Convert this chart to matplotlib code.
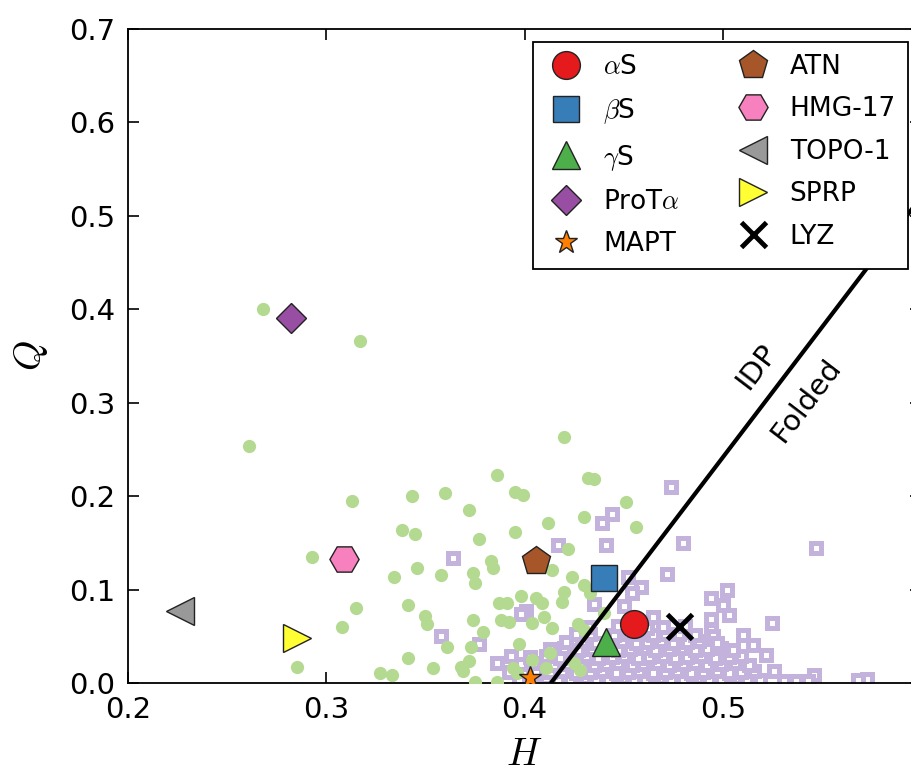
import matplotlib
matplotlib.use('Agg')
import matplotlib.pyplot as plt

plt.rcParams['font.family'] = ['DejaVu Sans']
plt.rcParams['mathtext.fontset'] = 'cm'

# IDP database (green dots), (H, Q)
idp_pts = [
    (0.268, 0.400), (0.317, 0.366), (0.261, 0.254), (0.420, 0.263), (0.386, 0.223),
    (0.313, 0.195), (0.343, 0.200), (0.360, 0.203), (0.395, 0.204), (0.399, 0.201),
    (0.432, 0.219), (0.435, 0.218), (0.451, 0.194), (0.372, 0.185), (0.430, 0.178),
    (0.456, 0.167), (0.412, 0.171), (0.338, 0.164), (0.345, 0.160), (0.377, 0.154),
    (0.395, 0.162), (0.293, 0.135), (0.422, 0.143), (0.383, 0.131), (0.384, 0.123),
    (0.346, 0.123), (0.334, 0.113), (0.358, 0.116), (0.374, 0.118), (0.375, 0.107),
    (0.414, 0.121), (0.424, 0.113), (0.430, 0.105), (0.398, 0.093), (0.387, 0.086),
    (0.391, 0.086), (0.406, 0.091), (0.409, 0.086), (0.419, 0.087), (0.420, 0.097),
    (0.433, 0.096), (0.315, 0.080), (0.308, 0.060), (0.341, 0.083), (0.350, 0.072),
    (0.351, 0.063), (0.374, 0.067), (0.388, 0.067), (0.392, 0.065), (0.404, 0.064),
    (0.410, 0.071), (0.414, 0.059), (0.440, 0.075), (0.379, 0.055), (0.430, 0.057),
    (0.361, 0.039), (0.373, 0.039), (0.397, 0.042), (0.341, 0.027), (0.354, 0.016),
    (0.368, 0.017), (0.369, 0.013), (0.327, 0.011), (0.333, 0.009), (0.285, 0.017),
    (0.375, 0.001), (0.386, 0.001), (0.396, 0.011), (0.413, 0.032), (0.404, 0.025),
    (0.411, 0.016), (0.425, 0.021), (0.428, 0.014), (0.394, 0.016), (0.372, 0.024),
    (0.427, 0.063),
]

# folded proteins (lavender squares), sparse ones
folded_sparse = [
    (0.474, 0.210), (0.444, 0.181), (0.439, 0.171), (0.441, 0.148), (0.417, 0.148),
    (0.364, 0.134), (0.480, 0.150), (0.547, 0.145), (0.472, 0.117), (0.452, 0.114),
    (0.459, 0.103), (0.454, 0.096), (0.502, 0.100), (0.494, 0.091), (0.500, 0.084),
    (0.503, 0.073), (0.525, 0.064), (0.435, 0.085), (0.450, 0.082), (0.465, 0.071),
    (0.494, 0.068), (0.494, 0.057), (0.495, 0.050), (0.510, 0.051), (0.515, 0.041),
    (0.522, 0.030), (0.526, 0.013), (0.546, 0.009), (0.573, 0.004), (0.358, 0.050),
    (0.377, 0.042), (0.386, 0.021), (0.393, 0.029), (0.401, 0.077), (0.398, 0.074),
    (0.531, 0.002), (0.537, 0.002), (0.543, 0.002), (0.568, 0.003),
]

# folded proteins, dense cluster near the bottom
folded_dense = [
    (0.397, 0.004), (0.404, 0.003), (0.411, 0.005), (0.417, 0.004), (0.423, 0.003),
    (0.430, 0.005), (0.436, 0.004), (0.442, 0.003), (0.449, 0.005), (0.455, 0.004),
    (0.461, 0.003), (0.468, 0.005), (0.474, 0.004), (0.480, 0.003), (0.487, 0.005),
    (0.493, 0.004), (0.499, 0.003), (0.506, 0.005), (0.512, 0.004), (0.519, 0.003),
    (0.392, 0.012), (0.399, 0.013), (0.406, 0.011), (0.413, 0.012), (0.419, 0.013),
    (0.426, 0.011), (0.433, 0.012), (0.439, 0.013), (0.446, 0.011), (0.452, 0.012),
    (0.458, 0.013), (0.465, 0.011), (0.471, 0.012), (0.477, 0.013), (0.484, 0.011),
    (0.490, 0.012), (0.497, 0.013), (0.503, 0.011), (0.509, 0.012), (0.516, 0.013),
    (0.398, 0.020), (0.405, 0.021), (0.415, 0.019), (0.421, 0.020), (0.428, 0.021),
    (0.435, 0.019), (0.441, 0.020), (0.447, 0.021), (0.454, 0.019), (0.460, 0.020),
    (0.467, 0.021), (0.473, 0.019), (0.480, 0.020), (0.486, 0.021), (0.492, 0.019),
    (0.499, 0.020), (0.506, 0.021), (0.513, 0.019),
    (0.403, 0.028), (0.411, 0.029), (0.418, 0.027), (0.424, 0.028), (0.431, 0.029),
    (0.437, 0.027), (0.444, 0.028), (0.450, 0.029), (0.457, 0.027), (0.463, 0.028),
    (0.470, 0.029), (0.476, 0.027), (0.482, 0.028), (0.489, 0.029), (0.496, 0.027),
    (0.503, 0.028), (0.509, 0.029),
    (0.413, 0.036), (0.420, 0.037), (0.427, 0.035), (0.434, 0.036), (0.440, 0.037),
    (0.447, 0.035), (0.453, 0.036), (0.460, 0.037), (0.466, 0.035), (0.473, 0.036),
    (0.479, 0.037), (0.486, 0.035), (0.492, 0.036), (0.499, 0.037), (0.505, 0.035),
    (0.421, 0.044), (0.429, 0.045), (0.436, 0.043), (0.443, 0.044), (0.449, 0.045),
    (0.456, 0.043), (0.462, 0.044), (0.469, 0.045), (0.475, 0.043), (0.482, 0.044),
    (0.488, 0.045), (0.497, 0.043),
    (0.426, 0.052), (0.433, 0.053), (0.445, 0.051), (0.452, 0.052), (0.458, 0.053),
    (0.465, 0.051), (0.471, 0.052), (0.478, 0.053), (0.486, 0.051),
    (0.432, 0.060), (0.447, 0.061), (0.462, 0.059), (0.470, 0.060), (0.481, 0.061),
]

# highlighted proteins
names = ['$\\alpha$S', '$\\beta$S', '$\\gamma$S', 'ProT$\\alpha$', 'MAPT',
         'ATN', 'HMG-17', 'TOPO-1', 'SPRP', 'LYZ']
prot_h = [0.455, 0.440, 0.441, 0.282, 0.403, 0.406, 0.309, 0.226, 0.285, 0.478]
prot_q = [0.063, 0.112, 0.044, 0.391, 0.005, 0.131, 0.133, 0.077, 0.048, 0.061]
markers = ['o', 's', '^', 'D', '*', 'p', 'H', '<', '>', 'x']
colors = ['#e41a1c', '#377eb8', '#4daf4a', '#984ea3', '#ff7f00',
          '#a65628', '#f781bf', '#999999', '#ffff33', 'black']
sizes = [20, 19, 20, 15, 17, 21, 21, 20, 20, 18]

# boundary line Q = 2.785 H - 1.151
line_h = [0.4133, 0.6646]
line_q = [0.0, 0.7]

fig = plt.figure(figsize=(9.11, 7.73), dpi=100)
ax = fig.add_axes([0.1405, 0.1164, 0.8705, 0.846])

ax.plot([p[0] for p in folded_sparse + folded_dense],
        [p[1] for p in folded_sparse + folded_dense],
        's', ms=7.0, mfc='white', mec='#c3b3dc', mew=3.6, ls='none', zorder=2)
ax.plot([p[0] for p in idp_pts], [p[1] for p in idp_pts],
        'o', ms=9.5, color='#b4d990', mec='none', ls='none', zorder=3)

ax.plot(line_h, line_q, color='black', lw=3, zorder=4)
ax.text(0.517, 0.338, 'IDP', rotation=52.7, fontsize=21,
        ha='center', va='center', rotation_mode='anchor')
ax.text(0.542, 0.302, 'Folded', rotation=52.7, fontsize=21,
        ha='center', va='center', rotation_mode='anchor')

for i in range(len(names)):
    if markers[i] == 'x':
        ax.plot(prot_h[i], prot_q[i], marker='x', ms=sizes[i], mew=3.5,
                color='black', ls='none', label=names[i], zorder=5)
    else:
        ax.plot(prot_h[i], prot_q[i], marker=markers[i], ms=sizes[i],
                mfc=colors[i], mec='#222222', mew=1.0, ls='none',
                label=names[i], zorder=5)

ax.set_xlim(0.2, 0.6)
ax.set_ylim(0.0, 0.7)
ax.set_xticks([0.2, 0.3, 0.4, 0.5, 0.6])
ax.set_xticklabels(['0.2', '0.3', '0.4', '0.5', ''])
ax.set_yticks([0.0, 0.1, 0.2, 0.3, 0.4, 0.5, 0.6, 0.7])
ax.tick_params(direction='in', top=True, right=True, length=8, width=1.2,
               labelsize=21, pad=9)
for s in ax.spines.values():
    s.set_linewidth(1.3)

ax.set_xlabel('$H$', fontsize=28, labelpad=8)
ax.set_ylabel('$Q$', fontsize=28, labelpad=14)

leg = ax.legend(loc='upper right', ncol=2, numpoints=1, fontsize=19,
                handlelength=1.6, handletextpad=0.6, columnspacing=1.95,
                labelspacing=0.62, borderpad=0.45, fancybox=False,
                framealpha=1.0, edgecolor='black')
leg.get_frame().set_linewidth(1.3)
leg.set_zorder(10)

fig.savefig('out.png', dpi=100)
